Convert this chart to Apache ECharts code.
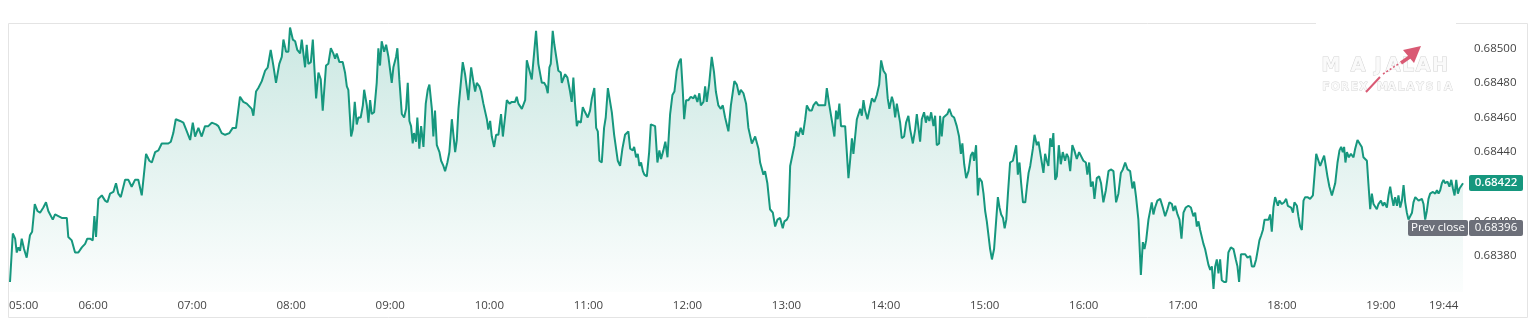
<!DOCTYPE html>
<html><head><meta charset="utf-8">
<script src="https://cdn.jsdelivr.net/npm/echarts@6/dist/echarts.min.js"></script>
<style>html,body{margin:0;padding:0;background:#fff}#c{width:1536px;height:326px}</style>
</head><body><div id="c"></div>
<script>
const times = [
309.7,311.4,312.8,313.8,314.8,315.8,316.8,318.2,319.8,321.8,
323.1,324.7,326.3,327.9,329.9,331.5,332.9,334.0,335.6,337.0,
338.0,339.0,341.0,342.0,344.1,345.0,347.1,349.1,351.1,353.2,
355.2,356.5,358.2,359.8,360.8,361.8,363.2,365.3,367.3,368.7,
370.3,372.3,373.9,375.3,376.8,379.4,381.4,383.4,385.4,387.4,
389.5,392.1,394.1,395.6,397.6,399.6,401.6,403.6,405.6,407.1,
408.6,410.1,412.7,414.7,416.8,418.8,420.4,421.8,423.8,425.8,
427.8,429.8,431.9,434.5,435.9,437.9,440.0,442.6,444.6,446.6,
449.0,451.0,453.1,454.1,456.1,457.1,458.7,460.1,462.2,464.2,
465.8,467.6,469.2,470.8,472.8,474.3,475.3,476.9,478.3,479.3,
481.0,482.4,483.7,485.4,486.4,487.4,488.4,489.4,490.4,491.9,
493.1,495.1,496.5,497.9,499.1,501.1,502.5,504.0,505.5,506.6,
507.6,509.2,511.2,512.6,513.7,514.6,516.3,517.3,518.5,519.7,
520.7,522.1,523.4,524.2,525.8,526.8,527.8,528.8,530.2,531.8,
532.8,533.8,534.8,536.3,537.5,538.9,539.9,540.9,541.9,543.5,
544.3,545.5,547.0,548.4,549.6,550.6,551.6,552.6,553.6,554.4,
555.6,556.4,557.6,558.7,560.1,561.5,562.7,563.7,565.2,566.1,
567.1,568.2,569.8,570.8,572.2,573.2,574.6,575.8,577.3,578.2,
579.3,580.3,581.3,582.3,583.9,585.3,587.3,589.0,590.3,591.4,
592.4,594.0,595.0,596.4,598.5,599.4,600.5,601.5,602.9,604.1,
605.5,607.1,608.2,609.5,610.6,612.2,613.6,615.6,616.6,617.6,
619.7,621.7,622.7,623.9,625.7,627.1,628.3,629.7,631.8,633.2,
634.4,635.4,636.4,637.2,638.4,639.4,640.4,641.8,643.3,643.9,
645.9,647.3,648.9,649.9,650.9,651.9,653.0,653.9,655.4,656.6,
658.0,659.6,661.0,662.1,663.6,664.7,665.7,666.7,668.1,669.5,
670.5,671.8,672.7,674.2,675.6,676.8,677.8,679.2,680.6,682.2,
684.2,685.3,686.9,687.7,688.9,689.9,690.9,691.9,693.0,693.9,
695.4,696.8,697.8,699.0,700.4,701.8,703.0,704.0,705.4,706.6,
707.9,709.5,710.9,712.1,713.5,714.9,716.0,717.2,718.0,719.2,
720.6,722.0,723.6,724.6,726.0,727.2,728.1,729.7,730.7,731.7,
733.1,734.7,736.1,737.2,738.7,740.2,741.4,742.8,743.8,744.8,
746.3,747.5,748.4,749.9,751.3,752.3,753.9,755.5,756.9,759.0,
761.0,763.0,764.0,765.0,766.0,767.0,768.4,770.0,771.7,773.1,
774.5,776.1,777.7,778.7,780.2,781.2,782.2,783.2,784.8,785.8,
787.2,788.6,789.9,791.3,792.3,793.9,795.3,796.3,797.9,799.3,
801.4,803.4,804.4,805.6,806.8,808.0,809.0,810.0,811.0,812.0,
813.0,814.1,815.5,816.5,817.5,818.5,819.6,820.5,821.5,822.6,
823.5,824.6,825.6,826.6,827.6,829.0,830.2,831.7,833.2,834.7,
836.1,837.3,838.7,840.1,841.3,842.3,843.8,844.7,845.8,846.8,
847.8,848.8,849.8,851.2,852.4,853.8,854.9,856.5,857.9,858.9,
859.9,860.9,861.9,863.3,864.4,865.3,866.5,867.6,869.0,870.0,
871.0,872.4,873.0,874.0,875.0,876.0,877.4,878.6,880.1,881.5,
883.1,884.5,885.6,886.5,887.6,888.8,890.2,891.6,892.8,893.6,
894.8,895.9,896.8,898.3,899.3,900.3,901.3,902.3,903.3,904.4,
905.7,907.0,908.0,909.0,910.0,911.1,912.1,913.1,914.1,915.4,
917.1,918.1,919.1,920.1,921.1,922.1,923.2,924.6,925.6,926.6,
927.6,929.2,930.2,931.6,932.6,933.6,934.6,935.6,936.6,937.6,
938.6,939.7,940.7,941.6,942.7,943.7,944.9,946.1,947.3,948.7,
949.7,950.7,951.8,953.1,954.3,955.8,957.2,958.4,959.8,961.3,
962.2,963.3,964.3,965.5,966.5,967.9,969.3,970.5,971.9,973.4,
975.0,976.4,978.0,979.6,981.0,982.5,983.7,985.1,986.5,988.1,
989.5,990.5,991.7,993.1,994.6,995.8,996.8,997.8,999.2,1000.2,
1001.2,1002.2,1003.2,1004.6,1006.3,1007.9,1009.3,1010.7,1011.9,1013.4,
1014.3,1015.4,1016.8,1018.0,1019.2,1020.4,1021.8,1023.4,1024.9,1026.4,
1027.5,1028.5,1029.5,1030.5,1031.5,1032.5,1033.5,1034.6,1035.5,1036.6,
1037.6,1038.6,1039.6,1040.6,1041.6,1042.6,1043.6,1045.0,1046.3,1047.6,
1049.1,1050.7,1052.1,1053.1,1054.1,1055.2,1056.4,1057.8,1059.2,1060.8,
1061.8,1063.2,1064.4,1065.5,1066.4,1067.5,1068.5,1069.5,1070.5,1071.9,
1072.9,1073.9,1074.9,1075.9,1077.0,1077.6,1078.5,1080.0,1081.4,1082.6,
1083.6,1084.6,1085.6,1086.7,1087.6,1089.1,1090.0,1091.1,1092.1,1093.1,
1094.1,1095.5,1097.1,1098.8,1099.7,1100.8,1101.8,1103.2,1104.2,1105.6,
1106.6,1107.6,1108.8,1110.3,1111.2,1112.3,1113.7,1114.9,1115.9,1116.9,
1117.7,1118.5,1119.4,1120.6,1121.8,1123.4,1124.4,1125.8,1127.0,1128.4,
1129.4,1130.4,1131.5,1132.4,1133.5,1134.5,1135.5,1136.5,1137.5,1138.5,
1140.0,1141.2,1142.1,1143.6,1144.6,1145.6,1146.6,1147.6,1148.6,1149.7,
1150.6,1151.7,1152.7,1153.7,1154.7,1155.7,1156.7,1157.7,1158.8,1159.7,
1160.8,1161.8,1162.8,1163.8,1164.8,1165.8,1166.8,1167.8,1168.8,1169.8,
1171.5,1172.9,1173.9,1174.9,1175.9,1176.9,1177.9,1178.9,1180.3,1181.5,
1182.6,1183.6,1184.6,1185.6,1186.6,1187.6,1188.4,1189.7
];
const prices = [
0.68365,0.68393,0.68390,0.68382,0.68385,0.68383,0.68390,0.68384,0.68379,0.68392,
0.68394,0.68410,0.68406,0.68405,0.68408,0.68411,0.68406,0.68407,0.68401,0.68404,
0.68405,0.68403,0.68402,0.68401,0.68402,0.68391,0.68389,0.68382,0.68382,0.68385,
0.68387,0.68390,0.68390,0.68389,0.68403,0.68391,0.68413,0.68415,0.68412,0.68411,
0.68416,0.68417,0.68422,0.68416,0.68414,0.68424,0.68424,0.68420,0.68424,0.68424,
0.68415,0.68439,0.68435,0.68434,0.68440,0.68441,0.68445,0.68445,0.68445,0.68446,
0.68451,0.68459,0.68458,0.68457,0.68452,0.68447,0.68457,0.68449,0.68454,0.68449,
0.68455,0.68455,0.68457,0.68456,0.68455,0.68451,0.68450,0.68451,0.68454,0.68454,
0.68472,0.68469,0.68468,0.68469,0.68465,0.68461,0.68475,0.68477,0.68481,0.68487,
0.68489,0.68499,0.68490,0.68480,0.68491,0.68495,0.68505,0.68498,0.68498,0.68512,
0.68505,0.68504,0.68499,0.68497,0.68505,0.68505,0.68489,0.68502,0.68491,0.68492,
0.68505,0.68471,0.68486,0.68482,0.68464,0.68490,0.68491,0.68500,0.68497,0.68494,
0.68497,0.68492,0.68492,0.68486,0.68478,0.68476,0.68449,0.68453,0.68469,0.68456,
0.68460,0.68460,0.68467,0.68476,0.68467,0.68457,0.68470,0.68462,0.68463,0.68480,
0.68500,0.68490,0.68504,0.68498,0.68502,0.68495,0.68496,0.68480,0.68489,0.68495,
0.68500,0.68482,0.68462,0.68460,0.68465,0.68480,0.68458,0.68455,0.68445,0.68451,
0.68446,0.68460,0.68442,0.68455,0.68443,0.68468,0.68476,0.68479,0.68465,0.68449,
0.68464,0.68444,0.68440,0.68435,0.68432,0.68429,0.68434,0.68440,0.68459,0.68459,
0.68440,0.68447,0.68465,0.68466,0.68492,0.68485,0.68470,0.68489,0.68481,0.68475,
0.68480,0.68478,0.68475,0.68468,0.68459,0.68453,0.68458,0.68449,0.68443,0.68450,
0.68450,0.68462,0.68449,0.68460,0.68470,0.68468,0.68469,0.68469,0.68472,0.68468,
0.68465,0.68470,0.68493,0.68494,0.68482,0.68497,0.68510,0.68491,0.68480,0.68480,
0.68478,0.68474,0.68489,0.68491,0.68510,0.68502,0.68503,0.68487,0.68486,0.68480,
0.68485,0.68483,0.68475,0.68469,0.68483,0.68468,0.68455,0.68458,0.68457,0.68466,
0.68463,0.68460,0.68464,0.68471,0.68477,0.68454,0.68452,0.68435,0.68434,0.68454,
0.68460,0.68477,0.68476,0.68463,0.68450,0.68449,0.68435,0.68432,0.68442,0.68450,
0.68452,0.68442,0.68441,0.68443,0.68437,0.68439,0.68432,0.68434,0.68429,0.68427,
0.68426,0.68440,0.68456,0.68455,0.68455,0.68434,0.68441,0.68436,0.68441,0.68446,
0.68437,0.68462,0.68473,0.68475,0.68487,0.68492,0.68494,0.68475,0.68459,0.68470,
0.68470,0.68472,0.68471,0.68473,0.68469,0.68474,0.68467,0.68469,0.68478,0.68469,
0.68479,0.68495,0.68486,0.68475,0.68467,0.68465,0.68467,0.68460,0.68460,0.68452,
0.68467,0.68475,0.68481,0.68479,0.68473,0.68476,0.68474,0.68468,0.68454,0.68445,
0.68449,0.68442,0.68434,0.68434,0.68427,0.68429,0.68422,0.68407,0.68405,0.68397,
0.68401,0.68402,0.68396,0.68400,0.68401,0.68403,0.68432,0.68433,0.68444,0.68452,
0.68449,0.68454,0.68450,0.68459,0.68467,0.68464,0.68464,0.68467,0.68469,0.68467,
0.68467,0.68467,0.68477,0.68469,0.68470,0.68455,0.68449,0.68464,0.68459,0.68468,
0.68455,0.68454,0.68455,0.68454,0.68425,0.68435,0.68448,0.68439,0.68440,0.68459,
0.68460,0.68465,0.68461,0.68470,0.68464,0.68459,0.68460,0.68471,0.68469,0.68473,
0.68479,0.68493,0.68487,0.68485,0.68471,0.68465,0.68472,0.68469,0.68460,0.68468,
0.68469,0.68457,0.68448,0.68449,0.68457,0.68461,0.68453,0.68445,0.68453,0.68462,
0.68461,0.68446,0.68459,0.68463,0.68457,0.68461,0.68458,0.68463,0.68455,0.68461,
0.68444,0.68445,0.68461,0.68449,0.68460,0.68460,0.68462,0.68465,0.68461,0.68460,
0.68455,0.68449,0.68439,0.68445,0.68433,0.68425,0.68429,0.68438,0.68440,0.68435,
0.68444,0.68415,0.68425,0.68423,0.68416,0.68406,0.68400,0.68399,0.68384,0.68378,
0.68384,0.68401,0.68414,0.68408,0.68404,0.68402,0.68396,0.68401,0.68416,0.68434,
0.68435,0.68434,0.68444,0.68427,0.68434,0.68422,0.68411,0.68411,0.68420,0.68428,
0.68432,0.68442,0.68450,0.68444,0.68446,0.68440,0.68434,0.68428,0.68439,0.68435,
0.68432,0.68448,0.68443,0.68451,0.68424,0.68426,0.68444,0.68433,0.68440,0.68435,
0.68439,0.68437,0.68429,0.68444,0.68441,0.68436,0.68440,0.68440,0.68435,0.68434,
0.68427,0.68434,0.68420,0.68423,0.68413,0.68425,0.68426,0.68422,0.68411,0.68418,
0.68429,0.68430,0.68429,0.68411,0.68416,0.68428,0.68430,0.68434,0.68430,0.68429,
0.68419,0.68423,0.68414,0.68401,0.68369,0.68388,0.68384,0.68389,0.68401,0.68400,
0.68411,0.68404,0.68408,0.68412,0.68413,0.68408,0.68403,0.68407,0.68411,0.68410,
0.68406,0.68409,0.68404,0.68401,0.68390,0.68405,0.68408,0.68409,0.68408,0.68403,
0.68405,0.68397,0.68400,0.68395,0.68396,0.68387,0.68384,0.68385,0.68375,0.68372,
0.68374,0.68361,0.68374,0.68378,0.68370,0.68378,0.68366,0.68365,0.68365,0.68382,
0.68385,0.68384,0.68378,0.68374,0.68365,0.68381,0.68380,0.68381,0.68379,0.68380,
0.68374,0.68374,0.68378,0.68384,0.68389,0.68392,0.68395,0.68401,0.68400,0.68401,
0.68404,0.68394,0.68408,0.68414,0.68415,0.68409,0.68412,0.68410,0.68411,0.68413,
0.68409,0.68409,0.68408,0.68405,0.68411,0.68409,0.68403,0.68397,0.68395,0.68412,
0.68414,0.68414,0.68413,0.68415,0.68415,0.68439,0.68440,0.68432,0.68431,0.68438,
0.68432,0.68426,0.68420,0.68415,0.68416,0.68422,0.68434,0.68441,0.68443,0.68440,
0.68443,0.68434,0.68440,0.68437,0.68439,0.68437,0.68442,0.68447,0.68447,0.68443,
0.68437,0.68438,0.68435,0.68422,0.68407,0.68416,0.68410,0.68411,0.68407,0.68410,
0.68412,0.68409,0.68411,0.68408,0.68415,0.68420,0.68414,0.68409,0.68414,0.68409,
0.68415,0.68408,0.68412,0.68421,0.68411,0.68405,0.68401,0.68401,0.68405,0.68411,
0.68414,0.68414,0.68412,0.68411,0.68413,0.68410,0.68401,0.68406,0.68413,0.68416,
0.68417,0.68416,0.68418,0.68416,0.68418,0.68422,0.68424,0.68422,0.68423,0.68420,
0.68424,0.68419,0.68415,0.68424,0.68416,0.68419,0.68420,0.68422
];
const prevClose = 0.68396;
const lastPrice = 0.68422;
const yTicks = [0.6838, 0.6840, 0.6842, 0.6844, 0.6846, 0.6848, 0.6850];
const xTickValues = [318, 360, 420, 480, 540, 600, 660, 720, 780, 840, 900, 960, 1020, 1080, 1140, 1178];
const xTickLabels = ['05:00','06:00','07:00','08:00','09:00','10:00','11:00','12:00','13:00','14:00','15:00','16:00','17:00','18:00','19:00','19:44'];

const FONT = '"Open Sans","Noto Sans",sans-serif';
const LINE = '#16977e';
const chart = echarts.init(document.getElementById('c'), null, {renderer: 'canvas'});
chart.setOption({
  animation: false,
  backgroundColor: '#ffffff',
  grid: {left: 10, right: 73, top: 24, bottom: 34},
  xAxis: {
    type: 'value', min: times[0], max: times[times.length - 1],
    axisLine: {show: false}, axisTick: {show: false}, splitLine: {show: false},
    axisLabel: {
      customValues: xTickValues,
      formatter: v => { const i = xTickValues.findIndex(t => Math.abs(t - v) < 0.01); return i >= 0 ? xTickLabels[i] : ''; },
      color: '#444', fontSize: 11.5, fontFamily: FONT, margin: 8
    }
  },
  yAxis: {
    type: 'value', position: 'right', min: 0.683592, max: 0.685140,
    axisLine: {show: false}, axisTick: {show: false}, splitLine: {show: false},
    axisLabel: {
      customValues: yTicks,
      formatter: v => v.toFixed(5),
      color: '#444', fontSize: 11.5, fontFamily: FONT, margin: 11
    }
  },
  series: [{
    type: 'line',
    data: times.map((t, i) => [t, prices[i]]),
    showSymbol: false, symbol: 'none',
    lineStyle: {color: LINE, width: 2},
    areaStyle: {color: new echarts.graphic.LinearGradient(0, 0, 0, 1, [
      {offset: 0, color: 'rgba(22,151,126,0.32)'},
      {offset: 1, color: 'rgba(22,151,126,0.02)'}
    ])},
    markLine: {
      silent: true, symbol: ['none', 'none'], label: {show: false},
      lineStyle: {color: '#8f9299', width: 1, type: [1, 4]},
      data: [{yAxis: prevClose}]
    }
  }]
});

const tEnd = times[times.length - 1];
const pLast = chart.convertToPixel({gridIndex: 0}, [tEnd, lastPrice]);
const pPrev = chart.convertToPixel({gridIndex: 0}, [tEnd, prevClose]);
const gx = pLast[0];
function tag(x, y, w, txt, fill, bold) {
  return [
    {type: 'rect', z: 100, shape: {x: x, y: Math.round(y) - 8, width: w, height: 16, r: 2}, style: {fill: fill}},
    {type: 'text', z: 101, x: x + w / 2, y: Math.round(y), style: {text: txt, fill: '#fff', font: (bold ? '600 ' : '') + '11.5px ' + FONT, align: 'center', verticalAlign: 'middle'}}
  ];
}
const letters = 'MAJALAH'.split('');
const letterX = [1331, 1358, 1378, 1393, 1408, 1423, 1440];
const sub = 'FOREX MALAYSIA'.split('');
const graphics = [
  {type: 'rect', z: 0, silent: true, shape: {x: 8.5, y: 23.5, width: 1519, height: 294}, style: {fill: 'none', stroke: '#e4e4e4', lineWidth: 1}},
  {type: 'rect', z: 5, silent: true, shape: {x: 1316, y: 18, width: 140, height: 10}, style: {fill: '#fff'}}
];
letters.forEach((ch, i) => graphics.push({type: 'text', z: 6, silent: true, x: letterX[i], y: 66,
  style: {text: ch, font: 'bold 19px "DejaVu Sans",sans-serif', fill: '#fafafa', stroke: '#d2d2d2', lineWidth: 1, align: 'center', verticalAlign: 'middle'}}));
sub.forEach((ch, i) => graphics.push({type: 'text', z: 6, silent: true, x: 1326 + i * 9.4, y: 87,
  style: {text: ch, font: 'bold 11px "DejaVu Sans",sans-serif', fill: '#fafafa', stroke: '#d4d4d4', lineWidth: 0.8, align: 'center', verticalAlign: 'middle'}}));
graphics.push(
  {type: 'polyline', z: 7, silent: true, shape: {points: [[1366, 92], [1380, 77]]}, style: {stroke: '#d95a74', lineWidth: 2}},
  {type: 'polyline', z: 7, silent: true, shape: {points: [[1383, 74], [1400, 63]]}, style: {stroke: '#d95a74', lineWidth: 1.5, lineDash: [2, 2]}},
  {type: 'polyline', z: 7, silent: true, shape: {points: [[1401, 63], [1411, 56]]}, style: {stroke: '#d95a74', lineWidth: 3.5}},
  {type: 'polygon', z: 7, silent: true, shape: {points: [[1421, 46], [1403, 50], [1414, 63]]}, style: {fill: '#d95a74'}}
);
graphics.push(...tag(gx + 6, pLast[1], 54, lastPrice.toFixed(5), '#16977e', true));
graphics.push(...tag(gx - 55, pPrev[1], 60, 'Prev close', '#6c6f79', false));
graphics.push(...tag(gx + 6, pPrev[1], 54, prevClose.toFixed(5), '#6c6f79', false));
chart.setOption({graphic: graphics});
</script>
</body></html>
